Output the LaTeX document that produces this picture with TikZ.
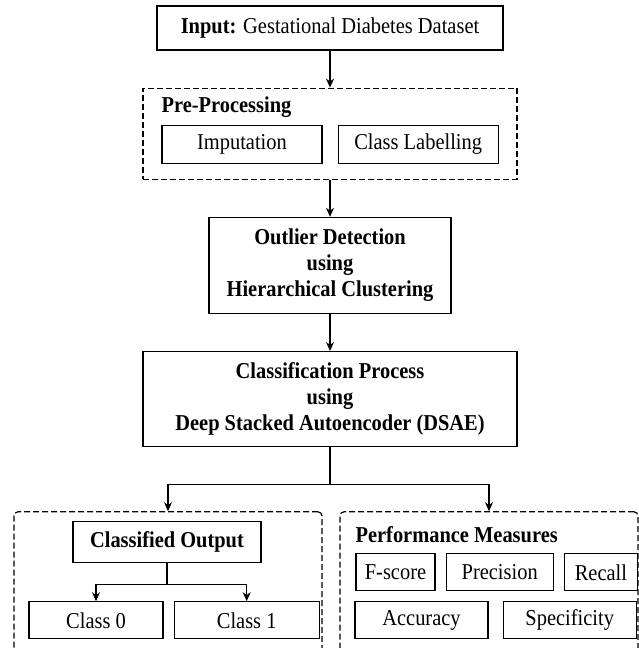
\documentclass[tikz,border=0pt]{standalone}
\usepackage{fontspec}
\setmainfont{Liberation Serif}[FakeStretch=0.9]
\usetikzlibrary{positioning, arrows.meta, calc}
\newcommand{\flowfont}{\fontsize{22.7}{26}\selectfont}
\tikzset{
	>={Stealth[length=9pt,width=8pt]}, % filled arrow heads
	every node/.style={font=\flowfont}, % text size of all labels
	box/.style={draw, line width=1.2pt, inner sep=0pt, align=center}, % plain boxes
	boldbox/.style={box, font=\flowfont\bfseries}, % boxes with bold text
	group/.style={draw, line width=1.2pt, dash pattern=on 6pt off 3pt, inner sep=0pt}, % dashed frames
	flow/.style={->, line width=1.2pt}, % connectors
	title/.style={anchor=west, inner sep=0pt, font=\flowfont\bfseries}, % frame headings
}

\begin{document}
\begin{tikzpicture}[x=1pt, y=1pt]
	\useasboundingbox (0,0) rectangle (639,-648);
	
	% main flow
	\node[box, minimum width=346pt, minimum height=44pt] (input) at (330,-28) {\textbf{Input:} Gestational Diabetes Dataset};
	\node[group, minimum width=374pt, minimum height=91pt, below=37pt of input] (pre) {};
	\node[title] (pretitle) at ($(pre.north west)+(19,-20)$) {Pre-Processing};
	\node[box, minimum width=160pt, minimum height=38pt, anchor=north west] (imput) at ($(pre.north west)+(19,-37)$) {Imputation};
	\node[box, minimum width=160pt, minimum height=38pt, right=15pt of imput] (labelling) {Class Labelling};
	\node[boldbox, minimum width=242pt, minimum height=96pt, below=37pt of pre] (outlier) {Outlier Detection\\using\\Hierarchical Clustering};
	\node[boldbox, minimum width=374pt, minimum height=95pt, below=37pt of outlier] (classif) {Classification Process\\using\\Deep Stacked Autoencoder (DSAE)};
	\coordinate[below=37pt of classif] (split);
	
	% output side
	\node[group, rounded corners=4pt, minimum width=308pt, minimum height=140pt, anchor=north] (clsgroup) at ($(split)+(-162,-27)$) {};
	\node[boldbox, minimum width=188pt, minimum height=41pt, anchor=north] (clsout) at ($(clsgroup.north)+(-1,-10)$) {Classified Output};
	\coordinate[below=21pt of clsout] (fork);
	\node[box, minimum width=134pt, minimum height=37pt, anchor=north west] (class0) at ($(clsgroup.north west)+(15,-90)$) {Class 0};
	\node[box, minimum width=145pt, minimum height=37pt, right=10pt of class0] (class1) {Class 1};
	
	% measures side
	\node[group, rounded corners=4pt, minimum width=298pt, minimum height=140pt, anchor=north] (perfgroup) at ($(split)+(159,-27)$) {};
	\node[title] (perftitle) at ($(perfgroup.north west)+(16,-23)$) {Performance Measures};
	\node[box, minimum width=79pt, minimum height=37pt, anchor=north west] (fscore) at ($(perfgroup.north west)+(16,-42)$) {F-score};
	\node[box, minimum width=107pt, minimum height=37pt, right=10pt of fscore] (precision) {Precision};
	\node[box, minimum width=73pt, minimum height=37pt, right=10pt of precision] (recall) {Recall};
	\node[box, minimum width=133pt, minimum height=37pt, anchor=north west] (accuracy) at ($(perfgroup.north west)+(15,-90)$) {Accuracy};
	\node[box, minimum width=133pt, minimum height=37pt, right=14pt of accuracy] (specificity) {Specificity};
	
	% connectors
	\draw[flow] (input) -- (pre);
	\draw[flow] (pre) -- (outlier);
	\draw[flow] (outlier) -- (classif);
	\draw[line width=1.2pt] (classif) -- (split);
	\draw[flow] (split) -| (clsgroup.north);
	\draw[flow] (split) -| (perfgroup.north);
	\draw[line width=1.2pt] (clsout) -- (fork);
	\draw[flow] (fork) -| (class0.north);
	\draw[flow] (fork) -| (class1.north);
	
\end{tikzpicture}
\end{document}
